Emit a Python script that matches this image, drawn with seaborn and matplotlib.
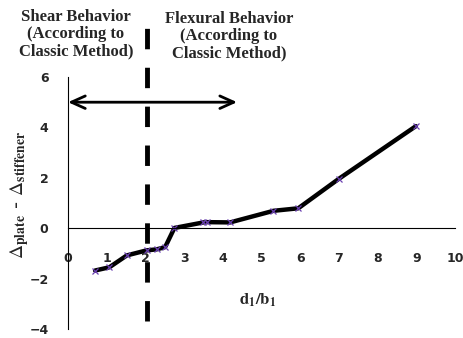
import numpy as np
import pandas as pd
import matplotlib
matplotlib.use("Agg")
import matplotlib.pyplot as plt
import seaborn as sns

# values
d1_b1 = [0.70, 1.07, 1.52, 2.03, 2.29, 2.51, 2.75, 3.50, 3.60, 4.19, 5.31, 5.95, 6.99, 8.99]
delta_diff = [-1.68, -1.55, -1.08, -0.88, -0.84, -0.75, 0.01, 0.23, 0.24, 0.23, 0.69, 0.79, 1.95, 4.05]
x_ticks = [0, 1, 2, 3, 4, 5, 6, 7, 8, 9, 10]
y_ticks = [-4, -2, 0, 2, 4, 6]
boundary_x = 2.05        # shear / flexural boundary (dashed line)
arrow_span = [0, 4.37]   # double arrow at y = 5
arrow_y = 5

df = pd.DataFrame({"d1_b1": d1_b1, "delta": delta_diff})

sns.set_style("white")
plt.rcParams["mathtext.fontset"] = "stix"

fig = plt.figure(figsize=(4.63, 3.38), dpi=100)
ax = fig.add_axes([68/463, 1-329/338, (455-68)/463, (329-77)/338])

sns.lineplot(data=df, x="d1_b1", y="delta", sort=False, ax=ax, color="black",
             linewidth=3.2, marker="x", markersize=5, markeredgecolor="#6a3fb0",
             markeredgewidth=0.9)

ax.set_xlim(0, 10)
ax.set_ylim(-4, 6)
ax.set_xticks(x_ticks)
ax.set_yticks(y_ticks)
ax.set_xlabel("")
ax.set_ylabel("")

# axes through origin like the Excel chart
for s in ["top", "right"]:
    ax.spines[s].set_visible(False)
ax.spines["bottom"].set_position(("data", 0))
ax.spines["left"].set_position(("data", 0))
for s in ["bottom", "left"]:
    ax.spines[s].set_linewidth(0.8)
    ax.spines[s].set_color("black")
ax.tick_params(axis="x", direction="out", length=4, width=0.8, pad=13, labelsize=9)
ax.tick_params(axis="y", direction="out", length=5, width=0.8, pad=9, labelsize=9)
for lab in ax.get_xticklabels() + ax.get_yticklabels():
    lab.set_fontweight("bold")

# boundary line
ax.axvline(boundary_x, ymin=0.03, ymax=1.26, color="black", linewidth=3.5,
           dashes=(4.2, 3.8), clip_on=False)

# double arrow
ax.annotate("", xy=(arrow_span[0], arrow_y), xytext=(arrow_span[1], arrow_y),
            arrowprops=dict(arrowstyle="<->,head_length=1.0,head_width=0.45",
                            color="black", lw=2.0, shrinkA=0, shrinkB=0))

# region labels
fig.text(76/463, 1-34/338, "Shear Behavior\n(According to\nClassic Method)",
         ha="center", va="center", family="Liberation Serif", fontweight="bold",
         fontsize=12, linespacing=1.1)
fig.text(229/463, 1-36/338, "Flexural Behavior\n(According to\nClassic Method)",
         ha="center", va="center", family="Liberation Serif", fontweight="bold",
         fontsize=12, linespacing=1.1)

# axis titles
fig.text(20/463, 1-195/338, r"$\Delta_{\mathbf{plate}}$ - $\Delta_{\mathbf{stiffener}}$",
         rotation=90, ha="center", va="center", fontsize=14)
ax.text(4.9, -2.85, r"$\mathbf{d_1/b_1}$", ha="center", va="center", fontsize=12,
        family="DejaVu Sans")

fig.savefig("out.png", dpi=100)
